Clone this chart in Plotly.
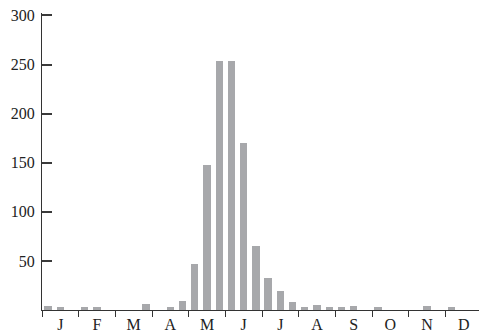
import plotly.graph_objects as go

months = ["J", "F", "M", "A", "M", "J", "J", "A", "S", "O", "N", "D"]
# ten-day (dekad) counts, three per month
counts = [4, 3, 0,
          3, 3, 0,
          0, 0, 6,
          0, 3, 9,
          47, 148, 254,
          254, 170, 65,
          33, 19, 8,
          3, 5, 3,
          3, 4, 0,
          3, 0, 0,
          0, 4, 0,
          3, 0, 0]
y_ticks = [50, 100, 150, 200, 250, 300]

x = [i + 0.5 for i in range(len(counts))]
month_centers = [3 * i + 1.5 for i in range(len(months))]
month_bounds = [3 * i for i in range(len(months) + 1)]

fig = go.Figure(go.Bar(x=x, y=counts, width=0.6, marker=dict(color="#a7a8ab", line=dict(width=0))))

fig.update_layout(
    width=479, height=333,
    margin=dict(l=42, r=0, t=13, b=20),
    paper_bgcolor="white", plot_bgcolor="white",
    showlegend=False,
    font=dict(family="Liberation Serif", size=16, color="#222"),
    bargap=0,
)
fig.update_xaxes(
    range=[0, 437 / (440 / 36)],
    tickmode="array", tickvals=month_centers, ticktext=months,
    ticks="", showgrid=False, zeroline=False,
    showline=True, linecolor="#333", linewidth=1.2,
    ticklabelstandoff=0,
    minor=dict(tickmode="array", tickvals=month_bounds, ticks="outside", ticklen=6, tickwidth=1.2, tickcolor="#333", showgrid=False),
)
fig.update_yaxes(
    range=[0, 302.5],
    tickmode="array", tickvals=y_ticks,
    ticks="inside", ticklen=10, tickwidth=1.6, tickcolor="#3a3a3a",
    ticklabelstandoff=3,
    showgrid=False, zeroline=False,
    showline=True, linecolor="#333", linewidth=1.2,
)
fig.write_html("out.html")
